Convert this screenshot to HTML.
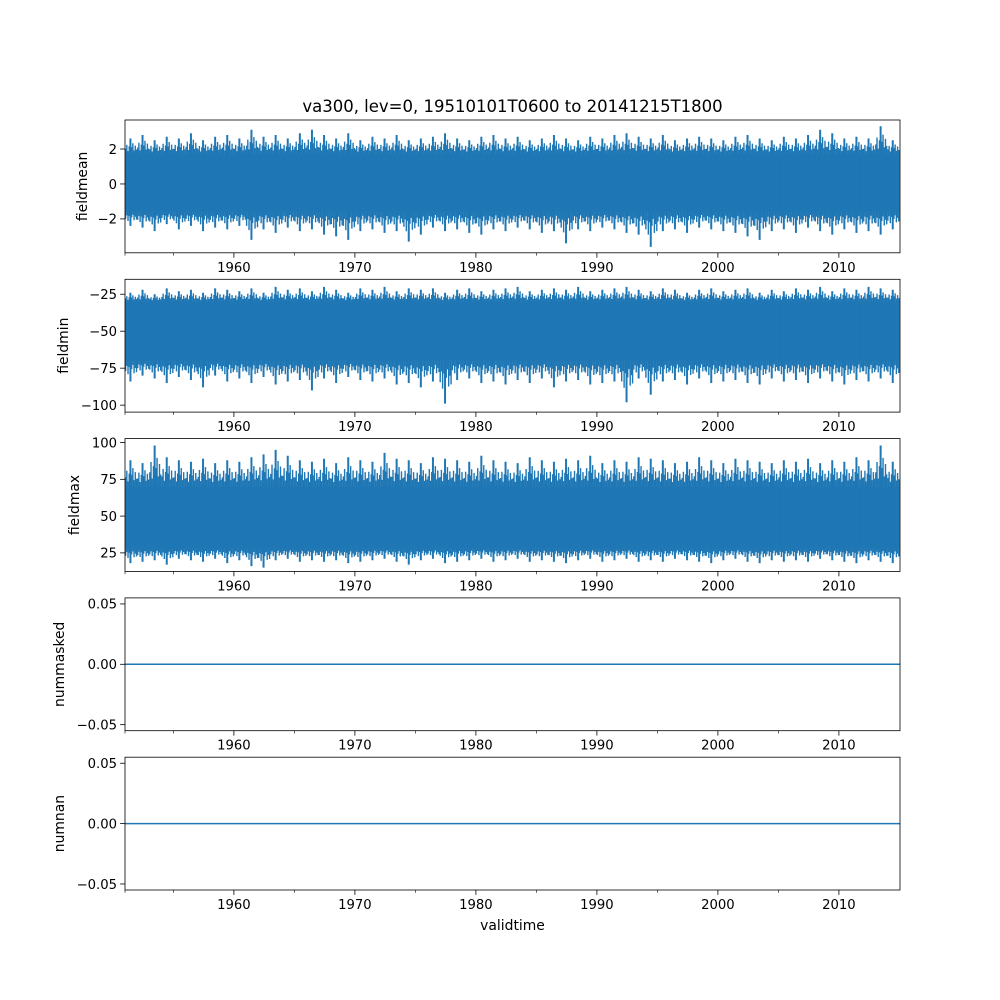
<!DOCTYPE html>
<html><head><meta charset="utf-8"><style>
body{margin:0;background:#fff}
svg{display:block;font-family:"DejaVu Sans","Liberation Sans",sans-serif}
</style></head><body>
<svg id="fig" width="1000" height="1000" viewBox="0 0 1000 1000">
<rect width="1000" height="1000" fill="#fff"/>
<text x="512.5" y="112" font-size="16.5" text-anchor="middle">va300, lev=0, 19510101T0600 to 20141215T1800</text>
<text x="512.5" y="930" font-size="13.9" text-anchor="middle">validtime</text>
</svg>
<script>
const years = [];
for (let y = 1951; y <= 2014; y++) years.push(y);
const xTicks = [1960, 1970, 1980, 1990, 2000, 2010];
const xMinorTicks = [1955, 1965, 1975, 1985, 1995, 2005];
const meanHi = [2.6,2.8,2.5,2.7,2.6,2.9,2.5,2.7,2.8,2.6,3.1,2.7,2.8,2.6,2.9,3.1,2.8,2.6,2.9,2.5,2.7,2.6,2.8,2.5,2.6,2.7,2.9,2.6,2.5,2.7,2.8,2.6,2.7,2.5,2.6,2.8,2.6,2.5,2.7,2.6,2.8,2.9,2.7,2.6,2.8,2.5,2.6,2.7,2.6,2.5,2.7,2.8,2.6,2.5,2.7,2.6,2.8,3.1,2.9,2.6,2.7,2.6,3.3,2.5];
const meanLo = [-2.4,-2.5,-2.7,-2.3,-2.6,-2.4,-2.7,-2.5,-2.6,-2.4,-3.2,-2.6,-2.8,-2.5,-2.7,-2.6,-2.9,-3.0,-3.2,-2.7,-2.6,-2.8,-2.7,-3.3,-2.9,-2.5,-2.7,-2.6,-2.8,-2.9,-2.6,-2.7,-2.5,-2.6,-2.8,-2.7,-3.4,-2.6,-2.7,-2.5,-2.6,-2.8,-2.9,-3.6,-2.7,-2.6,-2.8,-2.5,-2.6,-2.7,-2.8,-3.0,-3.2,-2.7,-2.6,-2.8,-2.5,-2.7,-2.9,-2.6,-2.8,-2.7,-2.9,-2.6];
const minHi = [-24,-22,-25,-21,-23,-22,-24,-21,-22,-23,-21,-24,-20,-22,-21,-23,-20,-22,-24,-21,-22,-20,-23,-21,-22,-21,-24,-22,-21,-23,-22,-21,-20,-23,-22,-21,-22,-20,-23,-22,-21,-20,-22,-23,-21,-22,-24,-22,-21,-23,-22,-21,-24,-22,-23,-21,-22,-20,-23,-21,-22,-20,-21,-22];
const minLo = [-84,-80,-82,-85,-81,-83,-88,-80,-84,-82,-85,-81,-86,-84,-83,-90,-82,-85,-81,-83,-84,-82,-86,-85,-88,-84,-99,-83,-82,-85,-84,-86,-83,-85,-82,-88,-84,-83,-86,-85,-84,-98,-82,-93,-84,-83,-86,-82,-85,-84,-83,-85,-86,-82,-84,-83,-85,-82,-84,-86,-83,-84,-82,-85];
const maxHi = [88,86,98,90,88,87,89,86,88,87,90,92,95,91,88,87,89,86,90,88,87,93,89,88,86,90,89,88,87,91,88,87,86,90,88,87,89,88,91,86,88,87,90,89,88,86,87,90,88,86,89,88,87,86,88,87,89,86,88,87,90,88,98,87];
const maxLo = [18,19,20,17,21,20,19,21,18,20,16,15,20,21,19,20,19,20,18,19,20,21,19,17,20,21,18,19,20,21,19,20,21,19,20,19,18,20,21,19,20,21,19,20,19,21,20,19,18,20,21,19,18,20,19,20,19,21,20,19,18,20,19,18];
const meanCore = [-1.6, 1.7];
const minCore = [-70, -30];
const maxCore = [28, 70];
const yTicksMean = [-2, 0, 2];
const yTicksMin = [-100, -75, -50, -25];
const yTicksMax = [25, 50, 75, 100];
const yTicksZero = [-0.05, 0.00, 0.05];
const panels = [
  {name:'fieldmean', top:120, ymin:-3.94, ymax:3.66, ticks:yTicksMean, lbl:t=>t<0?'\u2212'+Math.abs(t):String(t), hi:meanHi, lo:meanLo, core:meanCore, lx:87},
  {name:'fieldmin', top:279.3, ymin:-104.7, ymax:-14.9, ticks:yTicksMin, lbl:t=>t<0?'\u2212'+Math.abs(t):String(t), hi:minHi, lo:minLo, core:minCore, lx:68},
  {name:'fieldmax', top:438.6, ymin:12.4, ymax:102.7, ticks:yTicksMax, lbl:t=>String(t), hi:maxHi, lo:maxLo, core:maxCore, lx:79},
  {name:'nummasked', top:597.9, ymin:-0.055, ymax:0.055, ticks:yTicksZero, lbl:t=>(t<0?'\u2212':'')+Math.abs(t).toFixed(2), flat:0, lx:64},
  {name:'numnan', top:757.2, ymin:-0.055, ymax:0.055, ticks:yTicksZero, lbl:t=>(t<0?'\u2212':'')+Math.abs(t).toFixed(2), flat:0, lx:64}
];
// rendering texture pattern (fraction of excursion drawn by each sub-stroke)
const upFrac = [0.35,0.6,0.2,0.5,1,0.45,0.7,0.25,0.55,0.3];
const dnFrac = [0.5,0.25,0.65,0.3,1,0.4,0.2,0.6,0.35,0.55];
const NS = 'http://www.w3.org/2000/svg';
const svg = document.getElementById('fig');
const L = 125, R = 900, H = 132.8, X0 = 1951.0, X1 = 2015.05;
const C = '#1f77b4';
function xs(v){ return L + (v - X0) / (X1 - X0) * (R - L); }
function mk(tag, attrs, parent){
  const e = document.createElementNS(NS, tag);
  for (const k in attrs) e.setAttribute(k, attrs[k]);
  (parent || svg).appendChild(e);
  return e;
}
panels.forEach(p => {
  const ys = v => p.top + (p.ymax - v) / (p.ymax - p.ymin) * H;
  const g = mk('g', {});
  
  
  const clip = mk('clipPath', {id:'c-' + p.name}, g);
  mk('rect', {x:L, y:p.top, width:R - L, height:H}, clip);
  const plot = mk('g', {'clip-path':'url(#c-' + p.name + ')'}, g);
  
  
  if (p.hi) {
    const core = mk('rect', {x:xs(1951.0), y:ys(p.core[1]), width:xs(2015.0) - xs(1951.0), height:ys(p.core[0]) - ys(p.core[1]), fill:C}, plot);
    
    
    years.forEach((yr, i) => {
      upFrac.forEach((uf, k) => {
        const off = 0.05 + k * 0.1;
        const top = p.core[1] + (p.hi[i] - p.core[1]) * uf;
        const bot = p.core[0] + (p.lo[i] - p.core[0]) * dnFrac[k];
        const ln = mk('line', {x1:xs(yr + off), x2:xs(yr + off), y1:ys(top), y2:ys(bot), stroke:C, 'stroke-width':uf === 1 ? 2 : 1.4}, plot);
        
        
      });
    });
  } else {
    const ln = mk('line', {x1:L, x2:R, y1:ys(p.flat), y2:ys(p.flat), stroke:C, 'stroke-width':1.5}, plot);
    
    
  }
  const frame = mk('rect', {x:L, y:p.top, width:R - L, height:H, fill:'none', stroke:'#000', 'stroke-width':0.8}, g);
  
  
  const b = p.top + H;
  xTicks.forEach(t => {
    mk('line', {x1:xs(t), x2:xs(t), y1:b, y2:b + 4.9, stroke:'#000', 'stroke-width':0.8}, g);
    const tx = mk('text', {x:xs(t), y:b + 19, 'font-size':13.2, 'text-anchor':'middle'}, g);
    tx.textContent = t;
    
    
  });
  xMinorTicks.concat([1951]).forEach(t => mk('line', {x1:xs(t), x2:xs(t), y1:b, y2:b + 2.8, stroke:'#000', 'stroke-width':0.6}, g));
  p.ticks.forEach(t => {
    mk('line', {x1:L - 4.9, x2:L, y1:ys(t), y2:ys(t), stroke:'#000', 'stroke-width':0.8}, g);
    const tx = mk('text', {x:L - 8, y:ys(t) + 4.8, 'font-size':13.2, 'text-anchor':'end'}, g);
    tx.textContent = p.lbl(t);
    
    
  });
  const yl = mk('text', {x:p.lx, y:p.top + H / 2, 'font-size':13.9, 'text-anchor':'middle', transform:'rotate(-90 ' + p.lx + ' ' + (p.top + H / 2) + ')'}, g);
  yl.textContent = p.name;
  
  
});
</script>
</body></html>
